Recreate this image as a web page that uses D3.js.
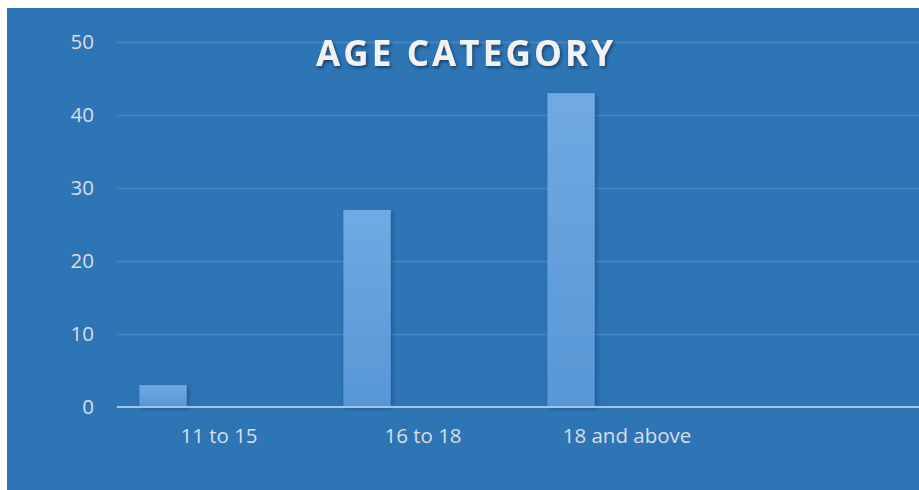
<!DOCTYPE html>
<html>
<head>
<meta charset="utf-8">
<script src="https://cdn.jsdelivr.net/npm/d3@7"></script>
<style>
html,body{margin:0;padding:0;background:#fff;}
svg{display:block;}
</style>
</head>
<body>
<script>
const categories = ["11 to 15", "16 to 18", "18 and above", ""];
const seriesNames = ["Series 1", "Series 2", "Series 3"];
const values = [3, 27, 43, null];
const yTicks = [0, 10, 20, 30, 40, 50];
const title = "AGE CATEGORY";

(function () {
const W = 919, H = 490;
const svg = d3.select("body").append("svg").attr("width", W).attr("height", H);
const defs = svg.append("defs");

const grad = defs.append("linearGradient").attr("id", "barGrad")
  .attr("x1", 0).attr("y1", 0).attr("x2", 0).attr("y2", 1);
grad.append("stop").attr("offset", "0%").attr("stop-color", "#70A9E2");
grad.append("stop").attr("offset", "100%").attr("stop-color", "#5797D6");

const sh = defs.append("filter").attr("id", "barShadow")
  .attr("x", "-20%").attr("y", "-10%").attr("width", "150%").attr("height", "130%");
sh.append("feDropShadow").attr("dx", 1.5).attr("dy", 1.5).attr("stdDeviation", 2)
  .attr("flood-color", "#0b2f55").attr("flood-opacity", 0.45);

const tsh = defs.append("filter").attr("id", "titleShadow")
  .attr("x", "-10%").attr("y", "-20%").attr("width", "120%").attr("height", "150%");
tsh.append("feDropShadow").attr("dx", 1.5).attr("dy", 2).attr("stdDeviation", 1.5)
  .attr("flood-color", "#0a2a4a").attr("flood-opacity", 0.7);

// background
svg.append("rect").attr("x", 7).attr("y", 8).attr("width", W - 7).attr("height", H - 8)
  .attr("fill", "#2E75B6");

const mLeft = 117, mRight = 933, mTop = 42, mBottom = 407;
const x = d3.scaleBand().domain(categories.map((d, i) => i)).range([mLeft, mRight]).paddingInner(0).paddingOuter(0);
const xs = d3.scaleBand().domain(seriesNames).range([0, x.bandwidth()]).paddingInner(0.153).paddingOuter(0.4);
const y = d3.scaleLinear().domain([0, 50]).range([mBottom, mTop]);

// gridlines
const gAxisY = svg.append("g").attr("transform", `translate(${mLeft},0)`)
  .call(d3.axisLeft(y).tickValues(yTicks).tickSize(-(W - mLeft)).tickPadding(23));
gAxisY.select(".domain").remove();
gAxisY.selectAll(".tick line").attr("stroke", "#4D89C4").attr("stroke-width", 1.3)
  .attr("opacity", d => d === 0 ? 0 : 1);
gAxisY.selectAll(".tick text").attr("fill", "#D9DEE5")
  .style("font-family", "'Open Sans', sans-serif").style("font-size", "20.5px");

// bars
svg.append("g").selectAll("rect").data(values.map((v, i) => ({v, i})).filter(d => d.v != null))
  .join("rect")
  .attr("x", d => x(d.i) + xs(seriesNames[0]))
  .attr("width", xs.bandwidth())
  .attr("y", d => y(d.v))
  .attr("height", d => y(0) - y(d.v))
  .attr("fill", "url(#barGrad)")
  .attr("filter", "url(#barShadow)");

// x axis
const gAxisX = svg.append("g").attr("transform", `translate(0,${mBottom})`)
  .call(d3.axisBottom(x).tickSize(0).tickPadding(21).tickFormat(i => categories[i]));
gAxisX.select(".domain").attr("stroke", "#A3C3E3").attr("stroke-width", 2.2)
  .attr("d", `M${mLeft},0H${W}`);
gAxisX.selectAll(".tick text").attr("fill", "#D9DEE5")
  .style("font-family", "'Open Sans', sans-serif").style("font-size", "20.5px");

// title
svg.append("text").attr("x", 464.5).attr("y", 66)
  .attr("text-anchor", "middle")
  .attr("fill", "#F2F2F2")
  .style("font-family", "'Open Sans', sans-serif")
  .style("font-weight", "bold")
  .style("font-size", "35px")
  .attr("textLength", 297).attr("lengthAdjust", "spacing")
  .attr("filter", "url(#titleShadow)")
  .text(title);
})();
</script>
</body>
</html>
